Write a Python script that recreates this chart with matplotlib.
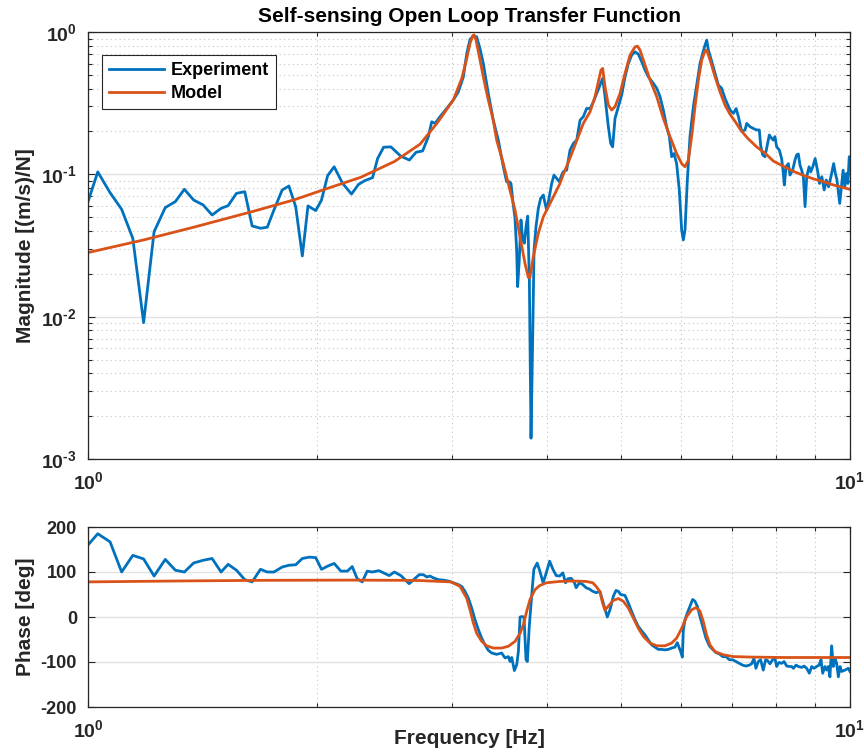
import matplotlib
matplotlib.use("Agg")
import matplotlib.pyplot as plt
from matplotlib.ticker import FixedLocator, NullFormatter

plt.rcParams['font.family'] = ['Liberation Sans', 'DejaVu Sans']
plt.rcParams['font.weight'] = 'bold'
plt.rcParams['axes.unicode_minus'] = False
plt.rcParams['mathtext.fontset'] = 'custom'
plt.rcParams['mathtext.rm'] = 'Liberation Sans:bold'
plt.rcParams['mathtext.bf'] = 'Liberation Sans:bold'
plt.rcParams['mathtext.it'] = 'Liberation Sans:bold'

# ---------------- measured magnitude ----------------
mag_exp_freq = [
    1.000, 1.030, 1.069, 1.107, 1.145, 1.183, 1.221, 1.263, 1.302, 1.338,
    1.376, 1.416, 1.455, 1.495, 1.527, 1.566, 1.606, 1.642, 1.684, 1.719,
    1.754, 1.798, 1.835, 1.873, 1.911, 1.944, 1.990, 2.025, 2.063, 2.104,
    2.158, 2.217, 2.265, 2.307, 2.363, 2.399, 2.443, 2.497, 2.574, 2.641,
    2.695, 2.749, 2.797, 2.825, 2.854, 2.897, 2.956, 3.016, 3.062, 3.109,
    3.141, 3.172, 3.204, 3.236, 3.269, 3.302, 3.352, 3.403, 3.455, 3.508,
    3.543, 3.572, 3.590, 3.615, 3.634, 3.652, 3.663, 3.681, 3.700, 3.719,
    3.738, 3.757, 3.776, 3.795, 3.814, 3.833, 3.849, 3.872, 3.899, 3.927,
    3.959, 3.979, 3.999, 4.027, 4.060, 4.088, 4.121, 4.154, 4.184, 4.205,
    4.248, 4.291, 4.335, 4.379, 4.423, 4.467, 4.512, 4.559, 4.605, 4.651,
    4.698, 4.736, 4.770, 4.818, 4.852, 4.881, 4.916, 4.966, 5.016, 5.067,
    5.118, 5.170, 5.223, 5.275, 5.329, 5.383, 5.438, 5.521, 5.577, 5.633,
    5.689, 5.746, 5.793, 5.834, 5.875, 5.922, 5.970, 6.013, 6.043, 6.074,
    6.117, 6.166, 6.229, 6.292, 6.356, 6.407, 6.453, 6.486, 6.519, 6.586,
    6.651, 6.718, 6.786, 6.855, 6.960, 7.031, 7.088, 7.138, 7.209, 7.282,
    7.319, 7.392, 7.467, 7.542, 7.603, 7.634, 7.680, 7.734, 7.773, 7.836,
    7.891, 7.931, 7.971, 8.012, 8.077, 8.134, 8.175, 8.200, 8.242, 8.300,
    8.342, 8.409, 8.469, 8.511, 8.554, 8.598, 8.641, 8.685, 8.730, 8.774,
    8.837, 8.882, 8.937, 9.000, 9.064, 9.120, 9.184, 9.250, 9.307, 9.373,
    9.440, 9.518, 9.566, 9.615, 9.694, 9.744, 9.794, 9.844, 9.895, 9.936,
    9.977, 10.00]
mag_exp = [
    0.0643, 0.104, 0.0743, 0.0568, 0.0355, 0.00908, 0.0395, 0.0584, 0.0643, 0.0785,
    0.066, 0.061, 0.0518, 0.0577, 0.0602, 0.0735, 0.0755, 0.0434, 0.0418, 0.0425,
    0.0562, 0.0776, 0.0828, 0.0593, 0.0267, 0.060, 0.0556, 0.066, 0.098, 0.113,
    0.0865, 0.0727, 0.085, 0.0902, 0.0948, 0.129, 0.155, 0.156, 0.134, 0.126,
    0.143, 0.146, 0.184, 0.234, 0.228, 0.254, 0.290, 0.333, 0.380, 0.485,
    0.707, 0.887, 0.936, 0.926, 0.766, 0.601, 0.370, 0.240, 0.174, 0.113,
    0.0887, 0.0887, 0.0863, 0.0609, 0.0491, 0.0294, 0.01626, 0.025, 0.0478, 0.0346,
    0.0328, 0.0429, 0.0509, 0.0181, 0.0014, 0.00686, 0.0294, 0.0429, 0.0576, 0.0678,
    0.0716, 0.0625, 0.0561, 0.0678, 0.0863, 0.0988, 0.0937, 0.0887, 0.0988, 0.1044,
    0.1072, 0.148, 0.165, 0.174, 0.240, 0.254, 0.290, 0.290, 0.323, 0.370,
    0.424, 0.472, 0.351, 0.216, 0.165, 0.156, 0.247, 0.298, 0.360, 0.484,
    0.601, 0.688, 0.726, 0.699, 0.618, 0.540, 0.484, 0.435, 0.402, 0.351,
    0.283, 0.216, 0.184, 0.133, 0.140, 0.119, 0.0777, 0.0406, 0.0346, 0.0406,
    0.0912, 0.184, 0.298, 0.424, 0.601, 0.708, 0.809, 0.877, 0.746, 0.618,
    0.512, 0.424, 0.402, 0.341, 0.283, 0.268, 0.290, 0.254, 0.200, 0.205,
    0.228, 0.216, 0.210, 0.205, 0.205, 0.160, 0.137, 0.133, 0.152, 0.189,
    0.179, 0.174, 0.184, 0.156, 0.148, 0.129, 0.1016, 0.0841, 0.113, 0.119,
    0.0989, 0.107, 0.126, 0.137, 0.139, 0.116, 0.107, 0.0962, 0.0593, 0.0962,
    0.113, 0.104, 0.113, 0.129, 0.107, 0.0863, 0.0962, 0.0777, 0.0912, 0.0818,
    0.0962, 0.119, 0.1016, 0.0912, 0.0625, 0.0818, 0.107, 0.0818, 0.1016, 0.0863,
    0.133, 0.133]

# ---------------- model magnitude ----------------
mag_model_freq = [
    1.000, 1.183, 1.376, 1.642, 1.863, 2.063, 2.280, 2.524, 2.728, 2.870,
    3.016, 3.094, 3.141, 3.172, 3.198, 3.211, 3.230, 3.263, 3.302, 3.352,
    3.403, 3.438, 3.508, 3.578, 3.634, 3.689, 3.745, 3.783, 3.800, 3.840,
    3.899, 3.959, 4.040, 4.163, 4.205, 4.291, 4.378, 4.467, 4.559, 4.628,
    4.675, 4.712, 4.736, 4.770, 4.818, 4.866, 4.916, 4.991, 5.067, 5.144,
    5.223, 5.260, 5.302, 5.383, 5.466, 5.577, 5.689, 5.805, 5.922, 6.013,
    6.074, 6.136, 6.197, 6.260, 6.324, 6.388, 6.453, 6.486, 6.552, 6.651,
    6.752, 6.855, 6.960, 7.072, 7.186, 7.342, 7.542, 7.746, 7.931, 8.175,
    8.426, 8.685, 8.950, 9.232, 9.518, 9.814, 10.00]
mag_model = [
    0.0282, 0.0346, 0.0425, 0.0547, 0.0661, 0.0797, 0.0953, 0.123, 0.163, 0.228,
    0.333, 0.472, 0.652, 0.831, 0.941, 0.955, 0.877, 0.670, 0.485, 0.333,
    0.240, 0.174, 0.119, 0.0777, 0.0561, 0.0365, 0.0237, 0.0189, 0.0187, 0.0263,
    0.0385, 0.0504, 0.0625, 0.0863, 0.100, 0.130, 0.172, 0.228, 0.275, 0.351,
    0.447, 0.540, 0.555, 0.412, 0.307, 0.283, 0.299, 0.370, 0.512, 0.688,
    0.787, 0.796, 0.746, 0.586, 0.459, 0.351, 0.247, 0.184, 0.140, 0.119,
    0.113, 0.126, 0.184, 0.298, 0.459, 0.635, 0.738, 0.746, 0.635, 0.484,
    0.380, 0.306, 0.264, 0.234, 0.205, 0.179, 0.156, 0.140, 0.124, 0.114,
    0.105, 0.0984, 0.093, 0.0887, 0.0841, 0.0805, 0.0784]

# ---------------- measured phase ----------------
ph_exp_freq = [
    1.000, 1.030, 1.069, 1.107, 1.145, 1.183, 1.221, 1.263, 1.302, 1.338,
    1.376, 1.416, 1.455, 1.495, 1.527, 1.566, 1.606, 1.642, 1.684, 1.719,
    1.754, 1.798, 1.835, 1.873, 1.911, 1.951, 1.990, 2.025, 2.063, 2.104,
    2.147, 2.190, 2.222, 2.256, 2.290, 2.325, 2.360, 2.409, 2.485, 2.524,
    2.574, 2.639, 2.720, 2.755, 2.783, 2.811, 2.839, 2.882, 2.926, 2.970,
    3.016, 3.062, 3.093, 3.124, 3.156, 3.188, 3.220, 3.253, 3.286, 3.319,
    3.352, 3.386, 3.438, 3.490, 3.526, 3.562, 3.580, 3.598, 3.627, 3.653,
    3.671, 3.690, 3.708, 3.734, 3.757, 3.772, 3.794, 3.821, 3.847, 3.886,
    3.917, 3.956, 3.987, 4.035, 4.075, 4.116, 4.158, 4.200, 4.233, 4.263,
    4.306, 4.349, 4.371, 4.415, 4.460, 4.505, 4.550, 4.597, 4.644, 4.697,
    4.745, 4.803, 4.842, 4.891, 4.931, 4.966, 5.000, 5.066, 5.118, 5.170,
    5.222, 5.275, 5.329, 5.383, 5.437, 5.492, 5.548, 5.604, 5.660, 5.717,
    5.775, 5.833, 5.892, 5.934, 5.970, 5.995, 6.025, 6.044, 6.074, 6.117,
    6.166, 6.216, 6.260, 6.304, 6.355, 6.407, 6.471, 6.537, 6.603, 6.670,
    6.737, 6.806, 6.875, 6.945, 7.015, 7.086, 7.157, 7.229, 7.302, 7.376,
    7.428, 7.481, 7.525, 7.579, 7.633, 7.694, 7.749, 7.796, 7.852, 7.915,
    7.972, 8.012, 8.069, 8.135, 8.193, 8.259, 8.326, 8.384, 8.427, 8.495,
    8.556, 8.643, 8.703, 8.773, 8.844, 8.907, 8.970, 9.042, 9.107, 9.162,
    9.208, 9.273, 9.319, 9.366, 9.412, 9.460, 9.508, 9.556, 9.604, 9.654,
    9.703, 9.750, 9.849, 9.949, 10.00]
ph_exp = [
    160, 185, 167, 100, 137, 129, 91, 128, 104, 100,
    120, 126, 130, 100, 117, 104, 83, 78, 106, 100,
    100, 111, 115, 116, 130, 133, 132, 106, 113, 119,
    102, 102, 112, 85, 78, 102, 100, 103, 92, 100,
    92, 74, 94, 94, 89, 91, 87, 83, 82, 80,
    76, 72, 68, 57, 42, 20, -6, -28, -47, -62,
    -74, -80, -83, -80, -91, -88, -99, -90, -119, -106,
    -77, 0, 1, 0, -95, -99, -21, 46, 106, 120,
    102, 76, 94, 124, 106, 92, 91, 98, 76, 85,
    86, 76, 65, 76, 72, 65, 62, 57, 54, 57,
    31, 0, 16, 46, 59, 57, 50, 48, 31, 12,
    -6, -21, -31, -40, -51, -62, -67, -72, -72, -73,
    -72, -69, -67, -57, -69, -77, -89, -28, -6, 9,
    24, 39, 35, 24, 1, -21, -47, -64, -72, -79,
    -82, -88, -88, -95, -95, -99, -103, -107, -109, -107,
    -104, -92, -114, -99, -95, -118, -95, -97, -104, -95,
    -92, -110, -101, -103, -99, -109, -110, -110, -114, -107,
    -110, -112, -109, -114, -125, -110, -114, -110, -107, -95,
    -125, -110, -118, -110, -133, -64, -110, -92, -103, -133,
    -110, -121, -118, -114, -121]

# ---------------- model phase ----------------
ph_model_freq = [
    1.000, 1.300, 1.700, 2.200, 2.600, 2.728, 2.994, 3.078, 3.140, 3.172,
    3.204, 3.236, 3.286, 3.336, 3.403, 3.490, 3.562, 3.635, 3.690, 3.727,
    3.765, 3.803, 3.861, 3.917, 3.996, 4.158, 4.327, 4.505, 4.597, 4.644,
    4.697, 4.735, 4.769, 4.817, 4.891, 4.966, 5.041, 5.118, 5.195, 5.275,
    5.355, 5.464, 5.576, 5.717, 5.833, 5.922, 6.013, 6.105, 6.197, 6.280,
    6.355, 6.419, 6.484, 6.550, 6.650, 6.820, 7.031, 7.391, 8.177, 9.042,
    10.00]
ph_model = [
    78, 80, 81.5, 82, 81.5, 81, 78, 68, 42, 16,
    -13, -36, -54, -64, -69, -69, -65, -54, -36, -17,
    13, 39, 61, 70, 76, 79, 80, 79, 76, 68,
    56, 31, 15, 24, 37, 41, 35, 20, -2, -25,
    -43, -58, -64, -64, -58, -47, -25, 1, 16, 21,
    13, -10, -40, -62, -77, -84, -88, -89, -90, -90,
    -90]

BLUE = '#0072BD'
ORANGE = '#D95319'
AXCOL = '#262626'

fig = plt.figure(figsize=(8.64, 7.55), dpi=100)
W, H = 864, 755
ax1 = fig.add_axes([88 / W, 1 - 459 / H, 762 / W, 427 / H])
ax2 = fig.add_axes([88 / W, 1 - 707 / H, 762 / W, 180 / H])

minor_x = [2, 3, 4, 5, 6, 7, 8, 9]


def pow10(e):
    # decade label with a plain hyphen in the exponent
    if e < 0:
        return r'$10^{\text{-}%d}$' % (-e)
    return r'$10^{%d}$' % e


def style(ax):
    ax.set_xscale('log')
    ax.set_xlim(1, 10)
    ax.xaxis.set_major_locator(FixedLocator([1, 10]))
    ax.xaxis.set_minor_locator(FixedLocator(minor_x))
    ax.xaxis.set_minor_formatter(NullFormatter())
    ax.set_xticklabels([pow10(0), pow10(1)])
    ax.tick_params(which='both', direction='in', top=True, right=True,
                   colors=AXCOL, labelsize=13, width=0.8)
    ax.tick_params(axis='x', which='major', labelsize=14)
    ax.tick_params(which='major', length=5)
    ax.tick_params(which='minor', length=3)
    ax.tick_params(axis='x', which='major', pad=9)
    ax.tick_params(axis='y', which='major', pad=8)
    for s in ax.spines.values():
        s.set_color(AXCOL)
        s.set_linewidth(0.9)
    ax.grid(True, which='major', color='#e2e2e2', linestyle='-', linewidth=1.0)
    ax.grid(True, which='minor', axis='x', color='#c4c4c4',
            linestyle=(0, (1, 3)), linewidth=0.8)
    ax.set_axisbelow(True)
    for lab in ax.get_xticklabels() + ax.get_yticklabels():
        lab.set_fontweight('bold')


# magnitude
style(ax1)
ax1.set_yscale('log')
ax1.set_ylim(1e-3, 1)
ax1.yaxis.set_major_locator(FixedLocator([1e-3, 1e-2, 1e-1, 1]))
ax1.set_yticklabels([pow10(-3), pow10(-2), pow10(-1), pow10(0)])
ax1.tick_params(axis='y', which='major', labelsize=14)
ax1.yaxis.set_minor_locator(FixedLocator(
    [m * 10.0 ** e for e in (-3, -2, -1) for m in range(2, 10)]))
ax1.yaxis.set_minor_formatter(NullFormatter())
ax1.grid(True, which='minor', axis='y', color='#c4c4c4',
         linestyle=(0, (1, 3)), linewidth=0.8)
ax1.plot(mag_exp_freq, mag_exp, color=BLUE, lw=2.0, label='Experiment')
ax1.plot(mag_model_freq, mag_model, color=ORANGE, lw=2.0, label='Model')
ax1.set_ylabel('Magnitude [(m/s)/N]', fontsize=15, fontweight='bold', color=AXCOL)
ax1.yaxis.set_label_coords(-0.069, 0.5)
leg = ax1.legend(loc='upper left', bbox_to_anchor=(0.018, 0.946), borderaxespad=0,
                 fancybox=False, edgecolor=AXCOL, framealpha=1, handlelength=3.05,
                 prop={'size': 13, 'weight': 'bold'}, borderpad=0.4,
                 labelspacing=0.32, handletextpad=0.35)
leg.get_frame().set_linewidth(0.8)

# phase
style(ax2)
ax2.set_ylim(-200, 200)
ax2.yaxis.set_major_locator(FixedLocator([-200, -100, 0, 100, 200]))
ax2.plot(ph_exp_freq, ph_exp, color=BLUE, lw=2.0)
ax2.plot(ph_model_freq, ph_model, color=ORANGE, lw=2.0)
ax2.set_ylabel('Phase [deg]', fontsize=15, fontweight='bold', color=AXCOL)
ax2.yaxis.set_label_coords(-0.069, 0.5)
ax2.set_xlabel('Frequency [Hz]', fontsize=15, fontweight='bold', color=AXCOL)
ax2.xaxis.set_label_coords(0.5, -0.125)

fig.text(469 / W, 1 - 22 / H, 'Self-sensing Open Loop Transfer Function',
         ha='center', va='baseline', fontsize=15, fontweight='bold', color='black')

fig.savefig('out.png', dpi=100)
